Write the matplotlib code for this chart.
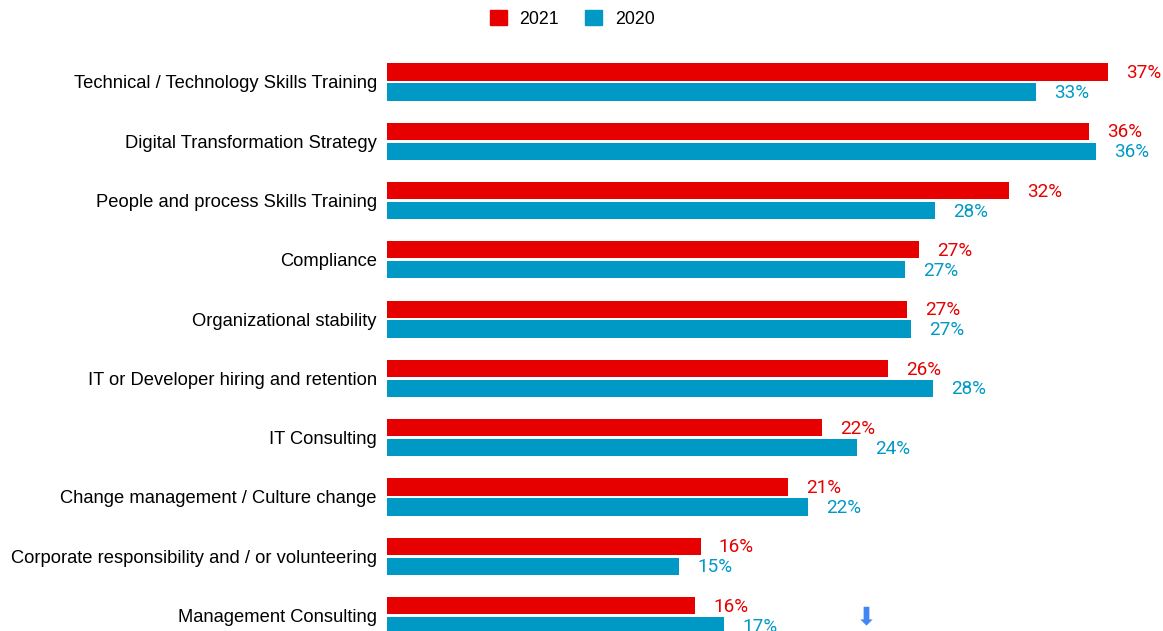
import matplotlib.pyplot as plt
import numpy as np
from matplotlib.patches import Patch

categories = [
    "Technical / Technology Skills Training",
    "Digital Transformation Strategy",
    "People and process Skills Training",
    "Compliance",
    "Organizational stability",
    "IT or Developer hiring and retention",
    "IT Consulting",
    "Change management / Culture change",
    "Corporate responsibility and / or volunteering",
    "Management Consulting",
]
values_2021 = [37.0, 36.0, 31.9, 27.3, 26.7, 25.7, 22.3, 20.6, 16.1, 15.8]
values_2020 = [33.3, 36.4, 28.1, 26.6, 26.9, 28.0, 24.1, 21.6, 15.0, 17.3]

red = "#E60000"
blue = "#0099C6"

fig = plt.figure(figsize=(11.63, 6.31), dpi=100)
ax = fig.add_axes([387 / 1163, 0, 1 - 387 / 1163, 1])

y = np.arange(len(categories))
off = 0.168
h = 0.29

ax.barh(y - off, values_2021, height=h, color=red, label="2021")
ax.barh(y + off, values_2020, height=h, color=blue, label="2020")

for yi, v in zip(y, values_2021):
    ax.annotate(f"{round(v)}%", (v, yi - off), xytext=(13, -0.8),
                textcoords="offset points", va="center", ha="left",
                color=red, fontsize=13.6, family="Roboto")
for yi, v in zip(y, values_2020):
    ax.annotate(f"{round(v)}%", (v, yi + off), xytext=(13, -0.8),
                textcoords="offset points", va="center", ha="left",
                color=blue, fontsize=13.6, family="Roboto")

ax.set_xlim(0, 776 / 19.49)
ax.set_ylim(9.261, -1.383)
ax.set_yticks(y)
ax.set_yticklabels(categories, family="Liberation Sans", fontsize=13.2)
ax.tick_params(axis="y", length=0, pad=7.2)
ax.set_xticks([])
for s in ax.spines.values():
    s.set_visible(False)

handles = [Patch(color=red, label="2021"), Patch(color=blue, label="2020")]
fig.legend(handles=handles, loc="center", bbox_to_anchor=(0.492, 0.97),
           ncol=2, frameon=False, handlelength=0.95, handleheight=0.95,
           columnspacing=1.5, handletextpad=0.7,
           prop={"family": "Liberation Sans", "size": 12.8})

# scroll indicator arrow
fig.text(866 / 1163, 1 - 617 / 631, "\u2b07", color="#4285F4", fontsize=18,
         ha="center", va="center", family="DejaVu Sans")

fig.savefig("out.png", dpi=100)
